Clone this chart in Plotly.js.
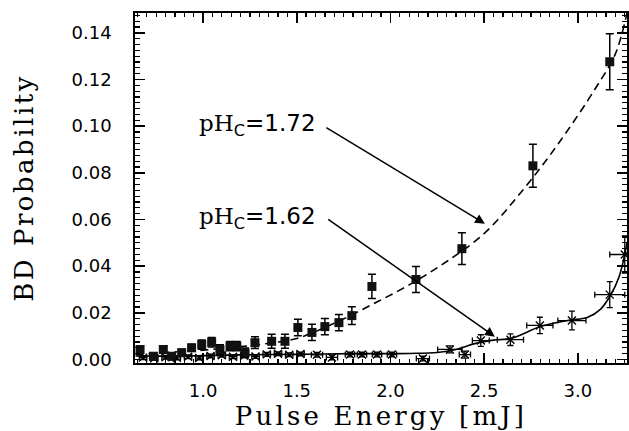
<!DOCTYPE html>
<html>
<head>
<meta charset="utf-8">
<script src="https://cdn.plot.ly/plotly-3.0.1.min.js"></script>
<style>html,body{margin:0;padding:0;background:#fff;}#chart{width:629px;height:431px;}
.g-xtitle text{letter-spacing:3.2px;}
.g-ytitle text{letter-spacing:2.5px;}
</style>
</head>
<body>
<div id="chart"></div>
<script>
// pH_c = 1.72 series (filled squares)
const s1x = [0.664, 0.735, 0.788, 0.833, 0.886, 0.939, 0.993, 1.046, 1.09, 1.144, 1.18, 1.224, 1.277, 1.366, 1.437, 1.506, 1.581, 1.65, 1.725, 1.794, 1.901, 2.136, 2.381, 2.76, 3.17];
const s1y = [0.0043, 0.0014, 0.0043, 0.0014, 0.0029, 0.005, 0.0064, 0.0074, 0.0043, 0.0057, 0.0057, 0.0029, 0.0072, 0.0078, 0.0078, 0.0137, 0.0116, 0.0141, 0.0158, 0.0188, 0.0313, 0.0343, 0.0475, 0.083, 0.1276];
const s1yerr = [0.0015, 0.0015, 0.0015, 0.0015, 0.0015, 0.0015, 0.002, 0.002, 0.002, 0.002, 0.002, 0.002, 0.0025, 0.003, 0.003, 0.0035, 0.0035, 0.0035, 0.0035, 0.0038, 0.0052, 0.0056, 0.0068, 0.0092, 0.012];
// fit curve pH_c = 1.72 (dashed)
const c1x = [0.64, 0.8, 1.0, 1.2, 1.4, 1.5, 1.7, 1.9, 2.1, 2.3, 2.5, 2.7, 2.9, 3.1, 3.2, 3.262];
const c1y = [0.002, 0.003, 0.004, 0.0055, 0.0075, 0.009, 0.0155, 0.0235, 0.032, 0.042, 0.054, 0.072, 0.093, 0.117, 0.131, 0.1485];
// pH_c = 1.62 series (crosses)
const s2x = [0.68, 0.74, 0.80, 0.86, 0.92, 0.98, 1.04, 1.10, 1.16, 1.22, 1.28, 1.34, 1.40, 1.46, 1.52, 1.608, 1.688, 1.784, 1.848, 1.928, 2.008, 2.173, 2.317, 2.397, 2.482, 2.64, 2.797, 2.968, 3.17, 3.25];
const s2y = [0.0008, 0.0005, 0.001, 0.0007, 0.0012, 0.0006, 0.0015, 0.0018, 0.0012, 0.0016, 0.0013, 0.0022, 0.0025, 0.002, 0.0024, 0.002, 0.0009, 0.0021, 0.0021, 0.0021, 0.0021, 0.0004, 0.0043, 0.0021, 0.0081, 0.0085, 0.0146, 0.0167, 0.0278, 0.045];
const s2xerr = [0.02, 0.02, 0.02, 0.02, 0.02, 0.02, 0.02, 0.02, 0.02, 0.02, 0.02, 0.02, 0.02, 0.02, 0.02, 0.03, 0.03, 0.025, 0.025, 0.025, 0.025, 0.035, 0.065, 0.03, 0.045, 0.07, 0.07, 0.075, 0.08, 0.08];
const s2yerr = [0.0008, 0.0008, 0.0008, 0.0008, 0.0008, 0.0008, 0.0008, 0.0008, 0.0008, 0.0008, 0.0008, 0.0008, 0.0008, 0.0008, 0.0008, 0.001, 0.001, 0.001, 0.001, 0.001, 0.001, 0.001, 0.0015, 0.0015, 0.0025, 0.0025, 0.0035, 0.004, 0.0056, 0.008];
// fit curve pH_c = 1.62 (solid)
const c2x = [0.64, 0.9, 1.2, 1.5, 1.8, 2.1, 2.25, 2.35, 2.45, 2.55, 2.65, 2.8, 2.95, 3.05, 3.12, 3.17, 3.22, 3.262];
const c2y = [0.0015, 0.0015, 0.002, 0.0022, 0.0025, 0.0026, 0.003, 0.0043, 0.0068, 0.0083, 0.0092, 0.0141, 0.0168, 0.018, 0.0215, 0.027, 0.0355, 0.050];
// labels and arrows
const labels = ['<span style="font-family:DejaVu Serif">pH</span><sub>C</sub>=1.72', '<span style="font-family:DejaVu Serif">pH</span><sub>C</sub>=1.62'];
const labelX = [1.29, 1.29];
const labelY = [0.1005, 0.0605];
const arrowTailX = [1.65, 1.66];
const arrowTailY = [0.0998, 0.0605];
const arrowTipX = [2.504, 2.557];
const arrowTipY = [0.0582, 0.0098];

const xTickVals = [1.0, 1.5, 2.0, 2.5, 3.0];
const yTickVals = [0.00, 0.02, 0.04, 0.06, 0.08, 0.10, 0.12, 0.14];

const traces = [
  {x: c1x, y: c1y, mode: 'lines', line: {color: '#000', width: 1.6, dash: '8px,5px', shape: 'spline'}, hoverinfo: 'skip'},
  {x: c2x, y: c2y, mode: 'lines', line: {color: '#000', width: 1.6, shape: 'spline'}, hoverinfo: 'skip'},
  {x: s2x, y: s2y, mode: 'markers',
   marker: {symbol: 'x-thin', size: 8, color: '#000', line: {width: 1.4, color: '#000'}},
   error_x: {type: 'data', array: s2xerr, color: '#000', thickness: 1.3, width: 3},
   error_y: {type: 'data', array: s2yerr, color: '#000', thickness: 1.3, width: 3}},
  {x: s1x, y: s1y, mode: 'markers',
   marker: {symbol: 'square', size: 9, color: '#111'},
   error_y: {type: 'data', array: s1yerr, color: '#000', thickness: 1.5, width: 4}}
];

const annotations = [];
for (let i = 0; i < labels.length; i++) {
  annotations.push({
    x: labelX[i], y: labelY[i], xref: 'x', yref: 'y', text: labels[i], showarrow: false,
    font: {family: 'DejaVu Sans', size: 23, color: '#000'}, xanchor: 'center', yanchor: 'middle'
  });
  annotations.push({
    x: arrowTipX[i], y: arrowTipY[i], ax: arrowTailX[i], ay: arrowTailY[i],
    xref: 'x', yref: 'y', axref: 'x', ayref: 'y', text: '', showarrow: true,
    arrowhead: 2, arrowsize: 1.3, arrowwidth: 1.5, arrowcolor: '#000', standoff: 0, startstandoff: 0
  });
}

const axisCommon = {
  showgrid: false, zeroline: false, showline: true, linecolor: '#000', linewidth: 1.8,
  mirror: 'allticks', ticks: 'inside', ticklen: 10, tickwidth: 1.5, tickcolor: '#000',
  tickfont: {family: 'DejaVu Sans', size: 18, color: '#000'}
};

const layout = {
  width: 629, height: 431,
  margin: {l: 135, r: 2, t: 13, b: 68},
  paper_bgcolor: '#fff', plot_bgcolor: '#fff',
  showlegend: false,
  xaxis: Object.assign({}, axisCommon, {
    range: [0.637, 3.262], tickvals: xTickVals, ticktext: xTickVals.map(v => v.toFixed(1)),
    minor: {dtick: 0.05, tick0: 0, ticks: 'inside', ticklen: 4, tickwidth: 1.3, tickcolor: '#000'},
    ticklabelstandoff: 11,
    title: {text: 'Pulse Energy [mJ]', font: {family: 'DejaVu Serif', size: 26, color: '#000'}, standoff: 3}
  }),
  yaxis: Object.assign({}, axisCommon, {
    range: [-0.0015, 0.1485], tickvals: yTickVals, ticktext: yTickVals.map(v => v.toFixed(2)),
    minor: {dtick: 0.0025, tick0: 0, ticks: 'inside', ticklen: 5, tickwidth: 1.3, tickcolor: '#000'},
    ticklabelstandoff: 18,
    title: {text: 'BD Probability', font: {family: 'DejaVu Serif', size: 26, color: '#000'}, standoff: 30}
  }),
  annotations: annotations
};

Plotly.newPlot('chart', traces, layout, {staticPlot: true, displayModeBar: false});
</script>
</body>
</html>
